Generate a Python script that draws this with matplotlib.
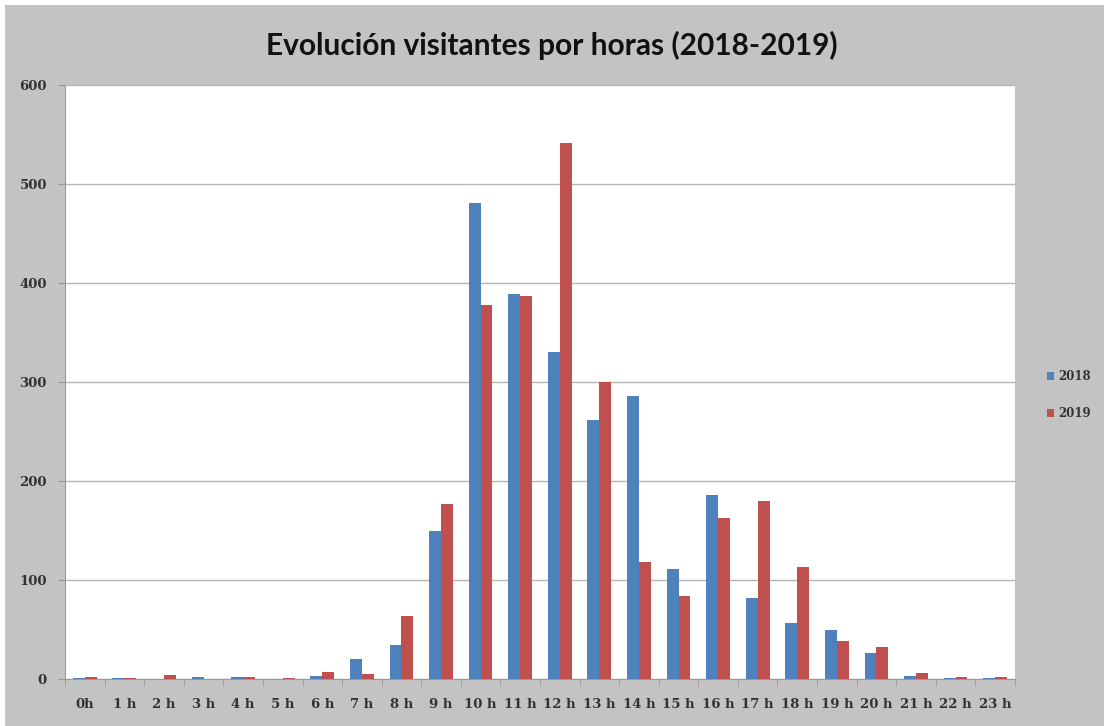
import matplotlib.pyplot as plt
import numpy as np

# data
hours = ["0h", "1 h", "2 h", "3 h", "4 h", "5 h", "6 h", "7 h", "8 h", "9 h", "10 h", "11 h",
         "12 h", "13 h", "14 h", "15 h", "16 h", "17 h", "18 h", "19 h", "20 h", "21 h", "22 h", "23 h"]
visitas_2018 = [1, 1, 0, 2, 2, 0, 3, 20, 34, 149, 481, 389,
                330, 262, 286, 111, 186, 82, 57, 49, 26, 3, 1, 1]
visitas_2019 = [2, 1, 4, 0, 2, 1, 7, 5, 64, 177, 378, 387,
                541, 300, 118, 84, 163, 180, 113, 38, 32, 6, 2, 2]
y_ticks = [0, 100, 200, 300, 400, 500, 600]

BLUE = "#4f81bd"
RED = "#c0504d"
BG = "#c3c3c3"
tick_font = dict(family="DejaVu Serif", fontsize=9.5, fontweight="bold", color="#333333")

fig = plt.figure(figsize=(11.04, 7.26), dpi=100)
fig.patch.set_facecolor("white")
# gray chart area (leaves a thin white strip top/left like the screenshot)
fig.patches.append(plt.Rectangle((5 / 1104, 0), 1 - 5 / 1104, 1 - 5 / 726,
                                 transform=fig.transFigure, facecolor=BG,
                                 edgecolor="none", zorder=-10))

ax = fig.add_axes([65 / 1104, 47 / 726, 950 / 1104, 594 / 726])
ax.set_facecolor("white")

x = np.arange(len(hours))
w = 0.3
ax.bar(x - w / 2, visitas_2018, width=w, color=BLUE, label="2018", zorder=3)
ax.bar(x + w / 2, visitas_2019, width=w, color=RED, label="2019", zorder=3)

ax.set_xlim(-0.5, len(hours) - 0.5)
ax.set_ylim(0, 600)
ax.set_yticks(y_ticks)
ax.set_yticklabels([str(v) for v in y_ticks], **tick_font)
ax.yaxis.grid(True, color="#b5b5b5", linewidth=1.0, zorder=0)

ax.set_xticks(x)
ax.set_xticklabels(hours, **tick_font)
ax.tick_params(axis="x", length=0, pad=14)
ax.set_xticks(np.arange(-0.5, len(hours)), minor=True)
ax.tick_params(axis="x", which="minor", length=5, color="#999999")
ax.tick_params(axis="y", length=5, color="#999999", pad=8)

for side in ["top", "right"]:
    ax.spines[side].set_visible(False)
ax.spines["left"].set_color("#999999")
ax.spines["bottom"].set_color("#999999")

fig.text(0.5, 0.937, "Evolución visitantes por horas (2018-2019)", ha="center", va="center",
         family="Lato", fontsize=21.5, fontweight="bold", color="#111111")

leg = ax.legend(loc="center left", bbox_to_anchor=(1.022, 0.478), frameon=False,
                handlelength=0.6, handleheight=0.7, labelspacing=2.0, handletextpad=0.4,
                prop=dict(family="DejaVu Serif", size=8.5, weight="bold"))
for t in leg.get_texts():
    t.set_color("#333333")

fig.savefig("out.png", dpi=100, facecolor=fig.get_facecolor())
